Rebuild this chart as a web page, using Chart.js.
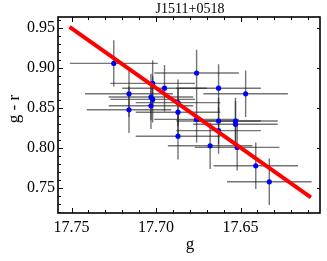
<!DOCTYPE html>
<html><head><meta charset="utf-8">
<script src="https://cdn.jsdelivr.net/npm/chart.js@4/dist/chart.umd.min.js"></script>
<style>html,body{margin:0;padding:0;background:#fff}#wrap{width:327px;height:261px}</style>
</head><body><div id="wrap"><canvas id="c" width="327" height="261"></canvas></div>
<script>
const titleText = 'J1511+0518';
const xLabel = 'g';
const yLabel = 'g - r';
const gMag    = [17.725, 17.716, 17.716, 17.702, 17.703, 17.702, 17.703, 17.695, 17.676, 17.687, 17.687, 17.676, 17.663, 17.647, 17.663, 17.653, 17.653, 17.663, 17.668, 17.652, 17.641, 17.633, 17.687];
const grColor = [0.906, 0.868, 0.848, 0.881, 0.864, 0.861, 0.853, 0.875, 0.894, 0.857, 0.845, 0.836, 0.875, 0.868, 0.834, 0.834, 0.830, 0.822, 0.803, 0.801, 0.778, 0.758, 0.815];
const gErr    = [0.026, 0.026, 0.025, 0.025, 0.025, 0.025, 0.025, 0.025, 0.025, 0.025, 0.025, 0.025, 0.025, 0.025, 0.025, 0.025, 0.025, 0.025, 0.025, 0.025, 0.025, 0.025, 0.025];
const grErr   = [0.029, 0.029, 0.029, 0.029, 0.029, 0.029, 0.029, 0.029, 0.029, 0.029, 0.029, 0.029, 0.030, 0.029, 0.029, 0.029, 0.029, 0.029, 0.029, 0.029, 0.029, 0.029, 0.029];
const fitG  = [17.7512, 17.6084];
const fitGR = [0.9516, 0.7384];
const xMajorTicks = [17.75, 17.70, 17.65];
const yMajorTicks = [0.75, 0.80, 0.85, 0.90, 0.95];
const xRange = [17.603, 17.758];
const yRange = [0.719, 0.964];
const minorStep = 0.01;

const SERIF = "'Liberation Serif','Times New Roman',serif";

function minorTicks(lo, hi, step){
  const out = [];
  for (let v = Math.ceil(lo/step - 1e-9)*step; v <= hi + 1e-9; v += step) out.push(+v.toFixed(4));
  return out;
}

const framePlugin = {
  id: 'frame',
  beforeDatasetsDraw(chart){
    const {ctx, chartArea:a, scales:{x, y}} = chart;
    ctx.save();
    ctx.beginPath(); ctx.rect(a.left, a.top, a.right-a.left, a.bottom-a.top); ctx.clip();
    ctx.strokeStyle = 'rgba(30,30,30,0.62)';
    ctx.lineWidth = 1.4;
    for (let i = 0; i < gMag.length; i++){
      const px = x.getPixelForValue(gMag[i]), py = y.getPixelForValue(grColor[i]);
      const x1 = x.getPixelForValue(gMag[i]-gErr[i]), x2 = x.getPixelForValue(gMag[i]+gErr[i]);
      const y1 = y.getPixelForValue(grColor[i]-grErr[i]), y2 = y.getPixelForValue(grColor[i]+grErr[i]);
      ctx.beginPath();
      ctx.moveTo(x1, py); ctx.lineTo(x2, py);
      ctx.moveTo(px, y1); ctx.lineTo(px, y2);
      ctx.stroke();
    }
    ctx.restore();
  },
  afterDraw(chart){
    const {ctx, chartArea:a, scales:{x, y}} = chart;
    ctx.save();
    ctx.strokeStyle = '#000';
    ctx.lineWidth = 1;
    const xmin = minorTicks(xRange[0], xRange[1], minorStep);
    const ymin = minorTicks(yRange[0], yRange[1], minorStep);
    ctx.beginPath();
    xmin.forEach(v => {
      const isMaj = xMajorTicks.some(m => Math.abs(m-v) < 1e-6);
      const L = isMaj ? 5 : 3;
      const p = Math.round(x.getPixelForValue(v)) + 0.5;
      ctx.moveTo(p, a.bottom); ctx.lineTo(p, a.bottom - L);
      ctx.moveTo(p, a.top); ctx.lineTo(p, a.top + L);
    });
    ymin.forEach(v => {
      const isMaj = yMajorTicks.some(m => Math.abs(m-v) < 1e-6);
      const L = isMaj ? 5 : 3;
      const p = Math.round(y.getPixelForValue(v)) + 0.5;
      ctx.moveTo(a.left, p); ctx.lineTo(a.left + L, p);
      if (isMaj){ ctx.moveTo(a.right, p); ctx.lineTo(a.right - 3, p); }
    });
    ctx.stroke();
    ctx.lineWidth = 1.6;
    ctx.strokeRect(a.left, a.top, a.right-a.left, a.bottom-a.top);
    ctx.fillStyle = '#000';
    ctx.textAlign = 'center';
    ctx.textBaseline = 'middle';
    ctx.font = '14px ' + SERIF;
    ctx.fillText(titleText, (a.left+a.right)/2 + 1, 9);
    ctx.font = '17px ' + SERIF;
    ctx.fillText(xLabel, (a.left+a.right)/2 + 1, 245);
    ctx.translate(15, 109);
    ctx.rotate(-Math.PI/2);
    ctx.fillText(yLabel, 0, 0);
    ctx.restore();
  }
};

new Chart(document.getElementById('c'), {
  type: 'scatter',
  data: {
    datasets: [
      {
        data: fitG.map((g, i) => ({x: g, y: fitGR[i]})),
        showLine: true,
        borderColor: '#ff0000',
        borderWidth: 4,
        pointRadius: 0,
        order: 0
      },
      {
        data: gMag.map((g, i) => ({x: g, y: grColor[i]})),
        backgroundColor: '#0000ff',
        borderWidth: 0,
        pointRadius: 2.6,
        order: 1
      }
    ]
  },
  options: {
    responsive: false,
    animation: false,
    devicePixelRatio: 1,
    layout: {padding: {top: 17, right: 7, left: 0, bottom: 0}},
    plugins: {legend: {display: false}, tooltip: {enabled: false}, title: {display: false}},
    scales: {
      x: {
        type: 'linear', reverse: true, min: xRange[0], max: xRange[1],
        grid: {display: false, drawTicks: false}, border: {display: false},
        afterBuildTicks: s => { s.ticks = xMajorTicks.map(v => ({value: v})); },
        afterFit: s => { s.height = 48; },
        ticks: {color: '#000', font: {family: SERIF, size: 16}, padding: 5, autoSkip: false, maxRotation: 0,
                callback: v => Number(v).toFixed(2)}
      },
      y: {
        type: 'linear', min: yRange[0], max: yRange[1],
        grid: {display: false, drawTicks: false}, border: {display: false},
        afterBuildTicks: s => { s.ticks = yMajorTicks.map(v => ({value: v})); },
        afterFit: s => { s.width = 58; },
        ticks: {color: '#000', font: {family: SERIF, size: 16}, padding: 3, autoSkip: false,
                callback: v => Number(v).toFixed(2)}
      }
    }
  },
  plugins: [framePlugin]
});
</script>
</body></html>
